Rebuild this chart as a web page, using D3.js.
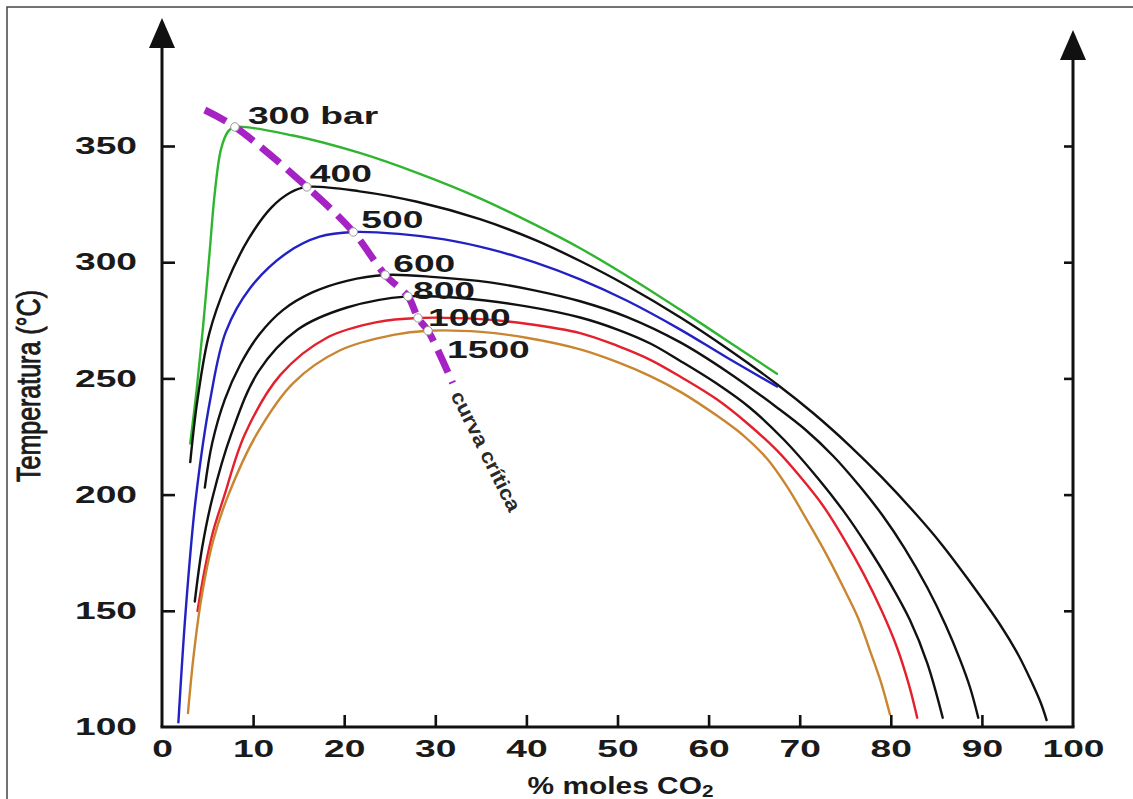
<!DOCTYPE html>
<html>
<head>
<meta charset="utf-8">
<script src="https://cdn.jsdelivr.net/npm/d3@7"></script>
<style>
  html, body { margin: 0; padding: 0; background: #fff; }
  svg { display: block; }
</style>
</head>
<body>
<svg id="chart" width="1133" height="799"></svg>
<script>
// ---------------- DATA ----------------
const pressureLabels = ["300 bar", "400", "500", "600", "800", "1000", "1500"];

// [% moles CO2, Temperature °C]
const curve300 = [[3.1,222],[3.8,245],[4.5,272],[5.2,303],[5.8,330],[6.5,349],[7.3,356.5],[8.0,358.2],[14.4,354.5],[21.7,347],[28.3,338],[34.9,327.5],[40.5,317],[45.9,306],[51.5,293],[56.9,279.5],[62.2,265.8],[67.5,252]];
const curve400 = [[3.1,214],[3.9,241],[5.2,269.5],[7.1,291],[9.5,310],[12,323.5],[14.1,330],[15.9,332.4],[21.7,330.5],[28,326],[34.9,318.5],[41,309.5],[45.9,300.5],[51,290],[57,276],[62,263],[67.5,247.5],[71.5,235],[75.5,221],[79,207.5],[82.9,191],[85.5,179],[88.4,164],[92,144],[94,131],[95.5,119],[96.5,110],[97.1,103]];
const curve500 = [[1.8,102],[2.6,150],[3.7,198],[5.3,241],[7.0,270],[9.7,289],[13.7,304],[17.3,311],[21,313],[26,312.2],[31,309.8],[36,305.6],[41,299.8],[45.9,292.6],[51,283.5],[56.9,271],[62,259],[67.5,246.5]];
const curve600 = [[4.7,203],[5.5,222],[6.9,241],[8.6,256],[10.7,269],[13.3,279.5],[16.5,287],[20.3,292],[24.5,294.5],[30,293.6],[36,291.3],[41,287.8],[45.9,283.2],[51,276.5],[56.9,265.5],[62,253],[67.5,237.5],[70.6,228],[73.7,216.5],[76.5,204],[79.1,191],[81.5,177],[84,160],[86,144],[87.6,129],[88.7,117],[89.6,104]];
const curve800 = [[3.6,154],[4.4,177],[5.5,198],[7.6,226],[10.6,253],[14.9,271],[20.3,280.5],[27,285.3],[33,284.5],[40,281],[45.9,276.2],[50,271],[53.6,265],[56.9,257.5],[60.8,248],[64.5,237.5],[68.3,223.5],[71.9,207.5],[74.8,193],[77.4,178],[79.9,162],[82.1,146],[84,127.5],[85.7,104]];
const curve1000 = [[3.9,150],[4.7,168],[5.6,184],[6.8,199],[9.1,226],[13,251.5],[18.1,267.5],[23.6,274.2],[28.1,276],[35,275.5],[40,273.5],[45.9,269.5],[50,264],[53.6,258],[57,250.5],[60.9,241],[64.3,230.5],[67.5,219],[70.2,207],[72.6,195],[75,180],[77,166],[79,150],[80.7,134],[82,118],[82.9,104]];
const curve1500 = [[2.85,106],[3.45,130],[4.3,155],[5.6,180],[7.3,200],[10.4,226],[14.4,248],[19.5,262],[25.4,268.7],[29.2,270.5],[35,270],[40,267.5],[45.9,262.5],[50,257],[53.6,251],[57,244],[60.9,234],[63.8,225.5],[66.4,215.5],[68.6,203.5],[70.8,189],[72.9,174.5],[74.8,160],[76.4,147],[77.7,133],[78.9,119.5],[79.9,105.5]];

// critical points (one per isobar) and critical curve ends
const criticalPoints = [[8.0,358.2],[15.9,332.4],[21,313],[24.5,294.5],[27,285.3],[28.1,276],[29.2,270.5]];
const criticalStart = [4.7,365.5];
const criticalEnd = [31.9,248];

const xTicks = [0,10,20,30,40,50,60,70,80,90,100];
const yTicks = [100,150,200,250,300,350];

// ---------------- STYLE ----------------
const curveColors = ["#2fb52f", "#111111", "#2222c4", "#111111", "#111111", "#e3202c", "#c98530"];
const labelOffsets = [[13,-3],[3,-5],[8,-4],[8,-3],[5,3],[10,8],[19,27]];
const SX = 1.55;   // horizontal stretch of the original picture's glyphs
const FONT = "'Liberation Sans', Arial, Helvetica, sans-serif";

// ---------------- CHART ----------------
const svg = d3.select("#chart");
const W = 1133, H = 799;
svg.append("rect").attr("width", W).attr("height", H).attr("fill", "#fff");

// outer frame (top + left visible)
svg.append("path").attr("d", `M7,${H} L7,7 L${W},7`).attr("fill", "none")
   .attr("stroke", "#444").attr("stroke-width", 1.5);

const x = d3.scaleLinear().domain([0, 100]).range([162, 1073]);
const y = d3.scaleLinear().domain([100, 350]).range([727, 146]);

const series = [curve300, curve400, curve500, curve600, curve800, curve1000, curve1500];

const line = d3.line()
  .x(d => x(d[0])).y(d => y(d[1]))
  .curve(d3.curveCatmullRom.alpha(0.5));

// curves
svg.append("g").selectAll("path").data(series).join("path")
  .attr("d", line)
  .attr("fill", "none")
  .attr("stroke", (d, i) => curveColors[i])
  .attr("stroke-width", 2.4)
  .attr("stroke-linecap", "round");

// critical curve
const critData = [criticalStart, ...criticalPoints, criticalEnd];
svg.append("path").datum(critData)
  .attr("d", line)
  .attr("fill", "none")
  .attr("stroke", "#a523c2")
  .attr("stroke-width", 7)
  .attr("stroke-dasharray", "24,10");

// critical circles
svg.append("g").selectAll("circle").data(criticalPoints).join("circle")
  .attr("cx", d => x(d[0])).attr("cy", d => y(d[1]))
  .attr("r", 4.2)
  .attr("fill", "#fff").attr("stroke", "#999").attr("stroke-width", 1);

// isobar labels
svg.append("g").selectAll("text").data(criticalPoints).join("text")
  .attr("transform", (d, i) => `translate(${x(d[0]) + labelOffsets[i][0]},${y(d[1]) + labelOffsets[i][1]}) scale(${SX},1)`)
  .attr("font-family", FONT).attr("font-weight", "bold").attr("font-size", 24)
  .attr("fill", "#1a1a1a")
  .text((d, i) => pressureLabels[i]);

// "curva crítica"
svg.append("text")
  .attr("transform", `translate(${x(criticalEnd[0]) + 4},${y(criticalEnd[1]) + 9}) rotate(63.5) scale(1.12,1)`)
  .attr("font-family", FONT).attr("font-size", 20).attr("font-weight", "bold")
  .attr("fill", "#2a2a2a")
  .attr("dy", "0.35em")
  .text("curva crítica");

// ---------------- AXES ----------------
const axisColor = "#111";
const yAxisG = svg.append("g").attr("transform", `translate(${x(0)},0)`)
  .call(d3.axisLeft(y).tickValues(yTicks).tickSize(-13).tickPadding(25));
const xAxisG = svg.append("g").attr("transform", `translate(0,${y(100)})`)
  .call(d3.axisBottom(x).tickValues(xTicks).tickSize(-12).tickPadding(13));
const rAxisG = svg.append("g").attr("transform", `translate(${x(100)},0)`)
  .call(d3.axisRight(y).tickValues(yTicks).tickSize(-9).tickFormat(""));

[yAxisG, xAxisG, rAxisG].forEach(g => {
  g.select(".domain").remove();
  g.selectAll(".tick line").attr("stroke", axisColor).attr("stroke-width", 2.6);
  g.selectAll("text").attr("font-family", FONT).attr("font-weight", "bold")
    .attr("font-size", 24).attr("fill", "#1a1a1a");
});
// hide ticks that coincide with axis lines
xAxisG.selectAll(".tick").filter(d => d === 0 || d === 100).select("line").remove();
yAxisG.selectAll(".tick").filter(d => d === 100).select("line").remove();
rAxisG.selectAll(".tick").filter(d => d === 100).select("line").remove();

// stretch tick labels horizontally
yAxisG.selectAll("text").each(function() {
  const t = d3.select(this); const xx = +t.attr("x");
  t.attr("x", 0).attr("transform", `translate(${xx},0) scale(${SX},1)`);
});
xAxisG.selectAll("text").attr("transform", `scale(${SX},1)`);

// axis lines with arrows
const leftTip = 18, rightTip = 30, arrowH = 30, arrowHW = 13;
svg.append("path")
  .attr("d", `M${x(0)},${y(100)} L${x(0)},${leftTip + arrowH - 2}`)
  .attr("stroke", axisColor).attr("stroke-width", 3).attr("fill", "none");
svg.append("path")
  .attr("d", `M${x(100)},${y(100)} L${x(100)},${rightTip + arrowH - 2}`)
  .attr("stroke", axisColor).attr("stroke-width", 3).attr("fill", "none");
svg.append("path")
  .attr("d", `M${x(0) - 1.5},${y(100)} L${x(100) + 1.5},${y(100)}`)
  .attr("stroke", axisColor).attr("stroke-width", 3).attr("fill", "none");
svg.append("path")
  .attr("d", `M${x(0)},${leftTip} L${x(0) - arrowHW},${leftTip + arrowH} L${x(0) + arrowHW},${leftTip + arrowH} Z`)
  .attr("fill", axisColor);
svg.append("path")
  .attr("d", `M${x(100)},${rightTip} L${x(100) - arrowHW},${rightTip + arrowH} L${x(100) + arrowHW},${rightTip + arrowH} Z`)
  .attr("fill", axisColor);

// axis titles
const xt = svg.append("text")
  .attr("transform", `translate(${x(50) + 3},${y(100) + 67}) scale(1.3,1)`)
  .attr("text-anchor", "middle")
  .attr("font-family", FONT).attr("font-weight", "bold").attr("font-size", 23)
  .attr("fill", "#1a1a1a");
xt.append("tspan").text("% moles CO");
xt.append("tspan").attr("font-size", 16).attr("dy", 3).text("2");

svg.append("text")
  .attr("transform", `translate(28,386) rotate(-90) scale(1,1.35)`)
  .attr("text-anchor", "middle").attr("dy", "0.35em")
  .attr("font-family", FONT).attr("font-size", 25)
  .attr("fill", "#1a1a1a").attr("stroke", "#1a1a1a").attr("stroke-width", 0.7)
  .text("Temperatura (°C)");
</script>
</body>
</html>
